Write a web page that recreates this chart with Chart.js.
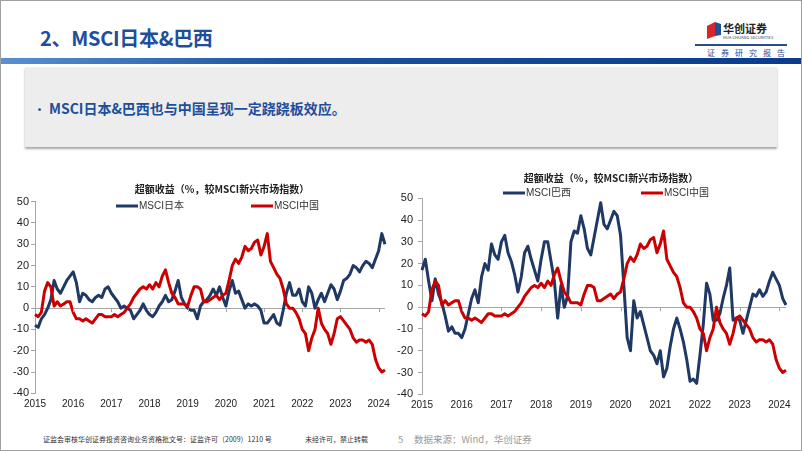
<!DOCTYPE html>
<html>
<head>
<meta charset="utf-8">
<script src="https://cdn.jsdelivr.net/npm/chart.js@4.4.1/dist/chart.umd.min.js"></script>
<style>
  html, body { margin: 0; padding: 0; background: #fff; }
  #slide { position: relative; width: 802px; height: 451px; overflow: hidden; border: 1px solid #a0a0a0; box-sizing: border-box; font-family: "Noto Sans CJK SC", sans-serif; }
  .abs { position: absolute; white-space: nowrap; }
  .title { left: 39px; top: 22px; font-size: 20px; font-weight: bold; color: #1f4e9a; line-height: 30px; letter-spacing: -0.3px; }
  .band { left: 0; top: 57px; width: 802px; height: 6px; background: linear-gradient(to right, #5a8fd0, #1f52a0 35%, #0b3b8c); }
  .box { left: 24px; top: 66px; width: 752px; height: 80px; background: #ededed; box-shadow: 0 2px 2px rgba(0,0,0,0.35); }
  .point { left: 33px; top: 96px; font-size: 14px; font-weight: bold; color: #1f4e9a; line-height: 22px; }
  .point span { display: inline-block; width: 15px; font-size: 11px; }
  .logo-name { left: 722px; top: 20px; font-size: 11px; font-weight: bold; color: #222; line-height: 14px; }
  .logo-en { left: 722px; top: 34px; font-size: 4px; color: #333; line-height: 5px; letter-spacing: 0.1px; }
  .logo-line { left: 694px; top: 43px; width: 92px; height: 1.5px; background: #2b4f8a; }
  .logo-sub { left: 706px; top: 46px; font-size: 8px; color: #1f4e9a; line-height: 12px; letter-spacing: 6px; }
  .foot { top: 432px; font-size: 7px; color: #333; line-height: 12px; }
  .foot-src { top: 431px; font-size: 9.5px; color: #999; line-height: 14px; }
  canvas { position: absolute; }
</style>
</head>
<body>
<div id="slide">
  <div class="abs title">2、MSCI日本&amp;巴西</div>
  <svg class="abs" style="left:704px;top:19px" width="18" height="20" viewBox="0 0 18 20">
    <polygon points="2,6 10,2 10,16 2,19" fill="#d7262b"/>
    <polygon points="10,2 16,4 16,15 10,16" fill="#1f4e9a"/>
  </svg>
  <div class="abs logo-name">华创证券</div>
  <div class="abs logo-en">HUA CHUANG SECURITIES</div>
  <div class="abs logo-line"></div>
  <div class="abs logo-sub">证券研究报告</div>
  <div class="abs band"></div>
  <div class="abs box"></div>
  <div class="abs point"><span>•</span>MSCI日本&amp;巴西也与中国呈现一定跷跷板效应。</div>

  <canvas id="chart-japan" width="400" height="240" style="left:0;top:170px"></canvas>
  <canvas id="chart-brazil" width="410" height="255" style="left:392px;top:155px"></canvas>

  <div class="abs foot" style="left:42px">证监会审核华创证券投资咨询业务资格批文号：证监许可（2009）1210 号</div>
  <div class="abs foot" style="left:304px">未经许可，禁止转载</div>
  <div class="abs foot-src" style="left:397px">5</div>
  <div class="abs foot-src" style="left:413px">数据来源：Wind，华创证券</div>
</div>

<script>
// 月度数据 2015-01 ~ 2024-03，超额收益（%，较MSCI新兴市场指数）
const months = [];
for (let y = 2015; y <= 2024; y++) {
    for (let m = 1; m <= 12; m++) {
        if (y === 2024 && m > 3) break;
        months.push(y + '-' + String(m).padStart(2, '0'));
    }
}
const yearLabels = ['2015', '2016', '2017', '2018', '2019', '2020', '2021', '2022', '2023', '2024'];

const chinaValues = [
    -3, -4, -2, 8, 12, 10, 1, 3, 1, 2, 3, 3,
    -2, -5, -5, -6, -5, -6, -7, -5, -3, -3, -4, -4,
    -4, -3, -4, -3, -2, 0, 2, 5, 7, 9, 10, 9,
    11, 9, 12, 10, 15, 18, 12, 7, 5, 2, 2, 2,
    1, 6, 10, 10, 9, 3, 3, 4, 5, 6, 4, 6,
    7, 13, 20, 23, 21, 24, 29, 27, 28, 31, 32, 25,
    29, 35, 22, 19, 16, 14, 9, 2, 0, 0, -2, -5,
    -10, -12, -20, -14, -10, 0, -7, -10, -12, -17, -12, -5,
    -4, -6, -8, -10, -14, -16, -15, -15, -16, -15, -17, -24,
    -28, -30, -29
];
const japanValues = [
    -8, -9, -5, -3, 0, 4, 13, 9, 7, 10, 13, 15,
    17, 12, 3, 7, 6, 4, 3, 5, 6, 5, 9, 10,
    7, 5, 3, 0, 1, 0, -1, -5, -3, -1, 2, -1,
    -3, -4, -2, 1, 3, 6, 3, 4, 8, 13, 5, 2,
    0, -1, -1, -5, 1, 3, 4, 6, 9, 6, 10, 5,
    1, 8, 13, 7, 8, 4, 0, 2, 1, 2, 1, -1,
    -7, -7, -5, -3, -7, -8, -1, 7, 12, 6, 6, 9,
    3, 1, 10, 7, 0, 4, 7, 3, 7, 11, 9, 4,
    8, 13, 14, 16, 20, 19, 17, 20, 22, 21, 19, 23,
    27, 35, 30
];
const brazilValues = [
    17, 22, 12, 3, 13, 6, 2, -4, -11, -9, -12, -12,
    -14, -10, -3, 4, 8, 2, 14, 20, 17, 29, 24, 22,
    30, 33, 25, 21, 15, 7, 14, 25, 28, 22, 17, 12,
    22, 30, 30, 21, 12, -5, 10, 0, 5, 30, 35, 34,
    42, 36, 27, 24, 32, 40, 48, 38, 36, 40, 44, 42,
    33, 10, -14, -20, 3, -5, -2, -8, -14, -20, -22, -26,
    -20, -32, -28, -18, -10, -5, -10, -16, -24, -34, -33, -35,
    -22, -8, 11, 6, -6, -6, -3, 4, 10, 18, -6, -5,
    -6, -12, -6, 0, 6, 5, 8, 5, 7, 12, 16, 13,
    10, 4, 1
];

const BLUE = '#1f3864';
const RED = '#cc0000';
const AXIS = '#a6a6a6';
const FONT = '"Liberation Sans", Arial, "Noto Sans CJK SC", sans-serif';

function yearOf(index) {
    const lab = months[index];
    if (!lab || !lab.endsWith('-01')) return '';
    const yr = lab.slice(0, 4);
    return yearLabels.includes(yr) ? yr : '';
}

// 标题、图例、零轴上的刻度
const chartHeader = {
    id: 'chartHeader',
    afterDraw(chart, args, opts) {
        const ctx = chart.ctx;
        const xScale = chart.scales.x;
        const yScale = chart.scales.y;
        ctx.save();
        // 零轴刻度
        const y0 = yScale.getPixelForValue(0);
        ctx.strokeStyle = AXIS;
        ctx.lineWidth = 1;
        months.forEach((m, i) => {
            if (yearOf(i) && i > 0) {
                const px = Math.round(xScale.getPixelForValue(i)) + 0.5;
                ctx.beginPath();
                ctx.moveTo(px, y0);
                ctx.lineTo(px, y0 + 4);
                ctx.stroke();
            }
        });
        // 标题
        ctx.fillStyle = '#222';
        ctx.font = 'bold 10px "Noto Sans CJK SC", sans-serif';
        ctx.textAlign = 'center';
        ctx.textBaseline = 'middle';
        ctx.fillText(opts.title, opts.titleX, opts.titleY);
        // 图例
        ctx.textAlign = 'left';
        ctx.font = '10px ' + FONT;
        chart.data.datasets.forEach((ds, i) => {
            const lx = opts.legendX[i];
            const ly = opts.legendY;
            ctx.strokeStyle = ds.borderColor;
            ctx.lineWidth = 3;
            ctx.beginPath();
            ctx.moveTo(lx, ly);
            ctx.lineTo(lx + 22, ly);
            ctx.stroke();
            ctx.fillStyle = '#333';
            ctx.fillText(ds.label, lx + 23, ly);
        });
        ctx.restore();
    }
};

function makeChart(canvasId, mainLabel, mainValues, box) {
    return new Chart(document.getElementById(canvasId), {
        type: 'line',
        data: {
            labels: months,
            datasets: [{
                label: mainLabel,
                data: mainValues,
                borderColor: BLUE,
                borderWidth: 3,
                borderJoinStyle: 'round',
                pointRadius: 0,
                tension: 0,
                order: 1
            }, {
                label: 'MSCI中国',
                data: chinaValues,
                borderColor: RED,
                borderWidth: 3,
                borderJoinStyle: 'round',
                pointRadius: 0,
                tension: 0,
                order: 0
            }]
        },
        options: {
            responsive: false,
            animation: false,
            layout: {
                padding: { top: box.top, right: box.right, bottom: 0, left: 0 }
            },
            scales: {
                x: {
                    type: 'category',
                    offset: false,
                    grid: { display: false, drawTicks: false },
                    border: { display: false },
                    ticks: {
                        autoSkip: false,
                        maxRotation: 0,
                        padding: 5,
                        color: '#222',
                        font: { family: FONT, size: 10 },
                        callback: (value, index) => yearOf(index)
                    },
                    afterFit: (scale) => { scale.height = box.xHeight; }
                },
                y: {
                    min: -40,
                    max: 50,
                    ticks: {
                        stepSize: 10,
                        padding: box.tickPad,
                        color: '#222',
                        font: { family: FONT, size: 11 }
                    },
                    grid: {
                        drawTicks: true,
                        tickLength: 4,
                        tickColor: AXIS,
                        color: (c) => (c.tick && c.tick.value === 0 ? AXIS : 'rgba(0,0,0,0)')
                    },
                    border: { color: AXIS },
                    afterFit: (scale) => { scale.width = box.yWidth; }
                }
            },
            plugins: {
                legend: { display: false },
                title: { display: false },
                tooltip: { enabled: false },
                chartHeader: {
                    title: '超额收益（%，较MSCI新兴市场指数）',
                    titleX: box.titleX,
                    titleY: box.titleY,
                    legendX: box.legendX,
                    legendY: box.legendY
                }
            }
        },
        plugins: [chartHeader]
    });
}

makeChart('chart-japan', 'MSCI日本', japanValues, {
    top: 30.7, right: 16, xHeight: 17.7, yWidth: 34, tickPad: 2,
    titleX: 221, titleY: 18, legendX: [115, 250], legendY: 35
});
makeChart('chart-brazil', 'MSCI巴西', brazilValues, {
    top: 42.3, right: 17, xHeight: 16.7, yWidth: 29, tickPad: 5,
    titleX: 218, titleY: 22, legendX: [110, 248], legendY: 37
});
</script>
</body>
</html>
